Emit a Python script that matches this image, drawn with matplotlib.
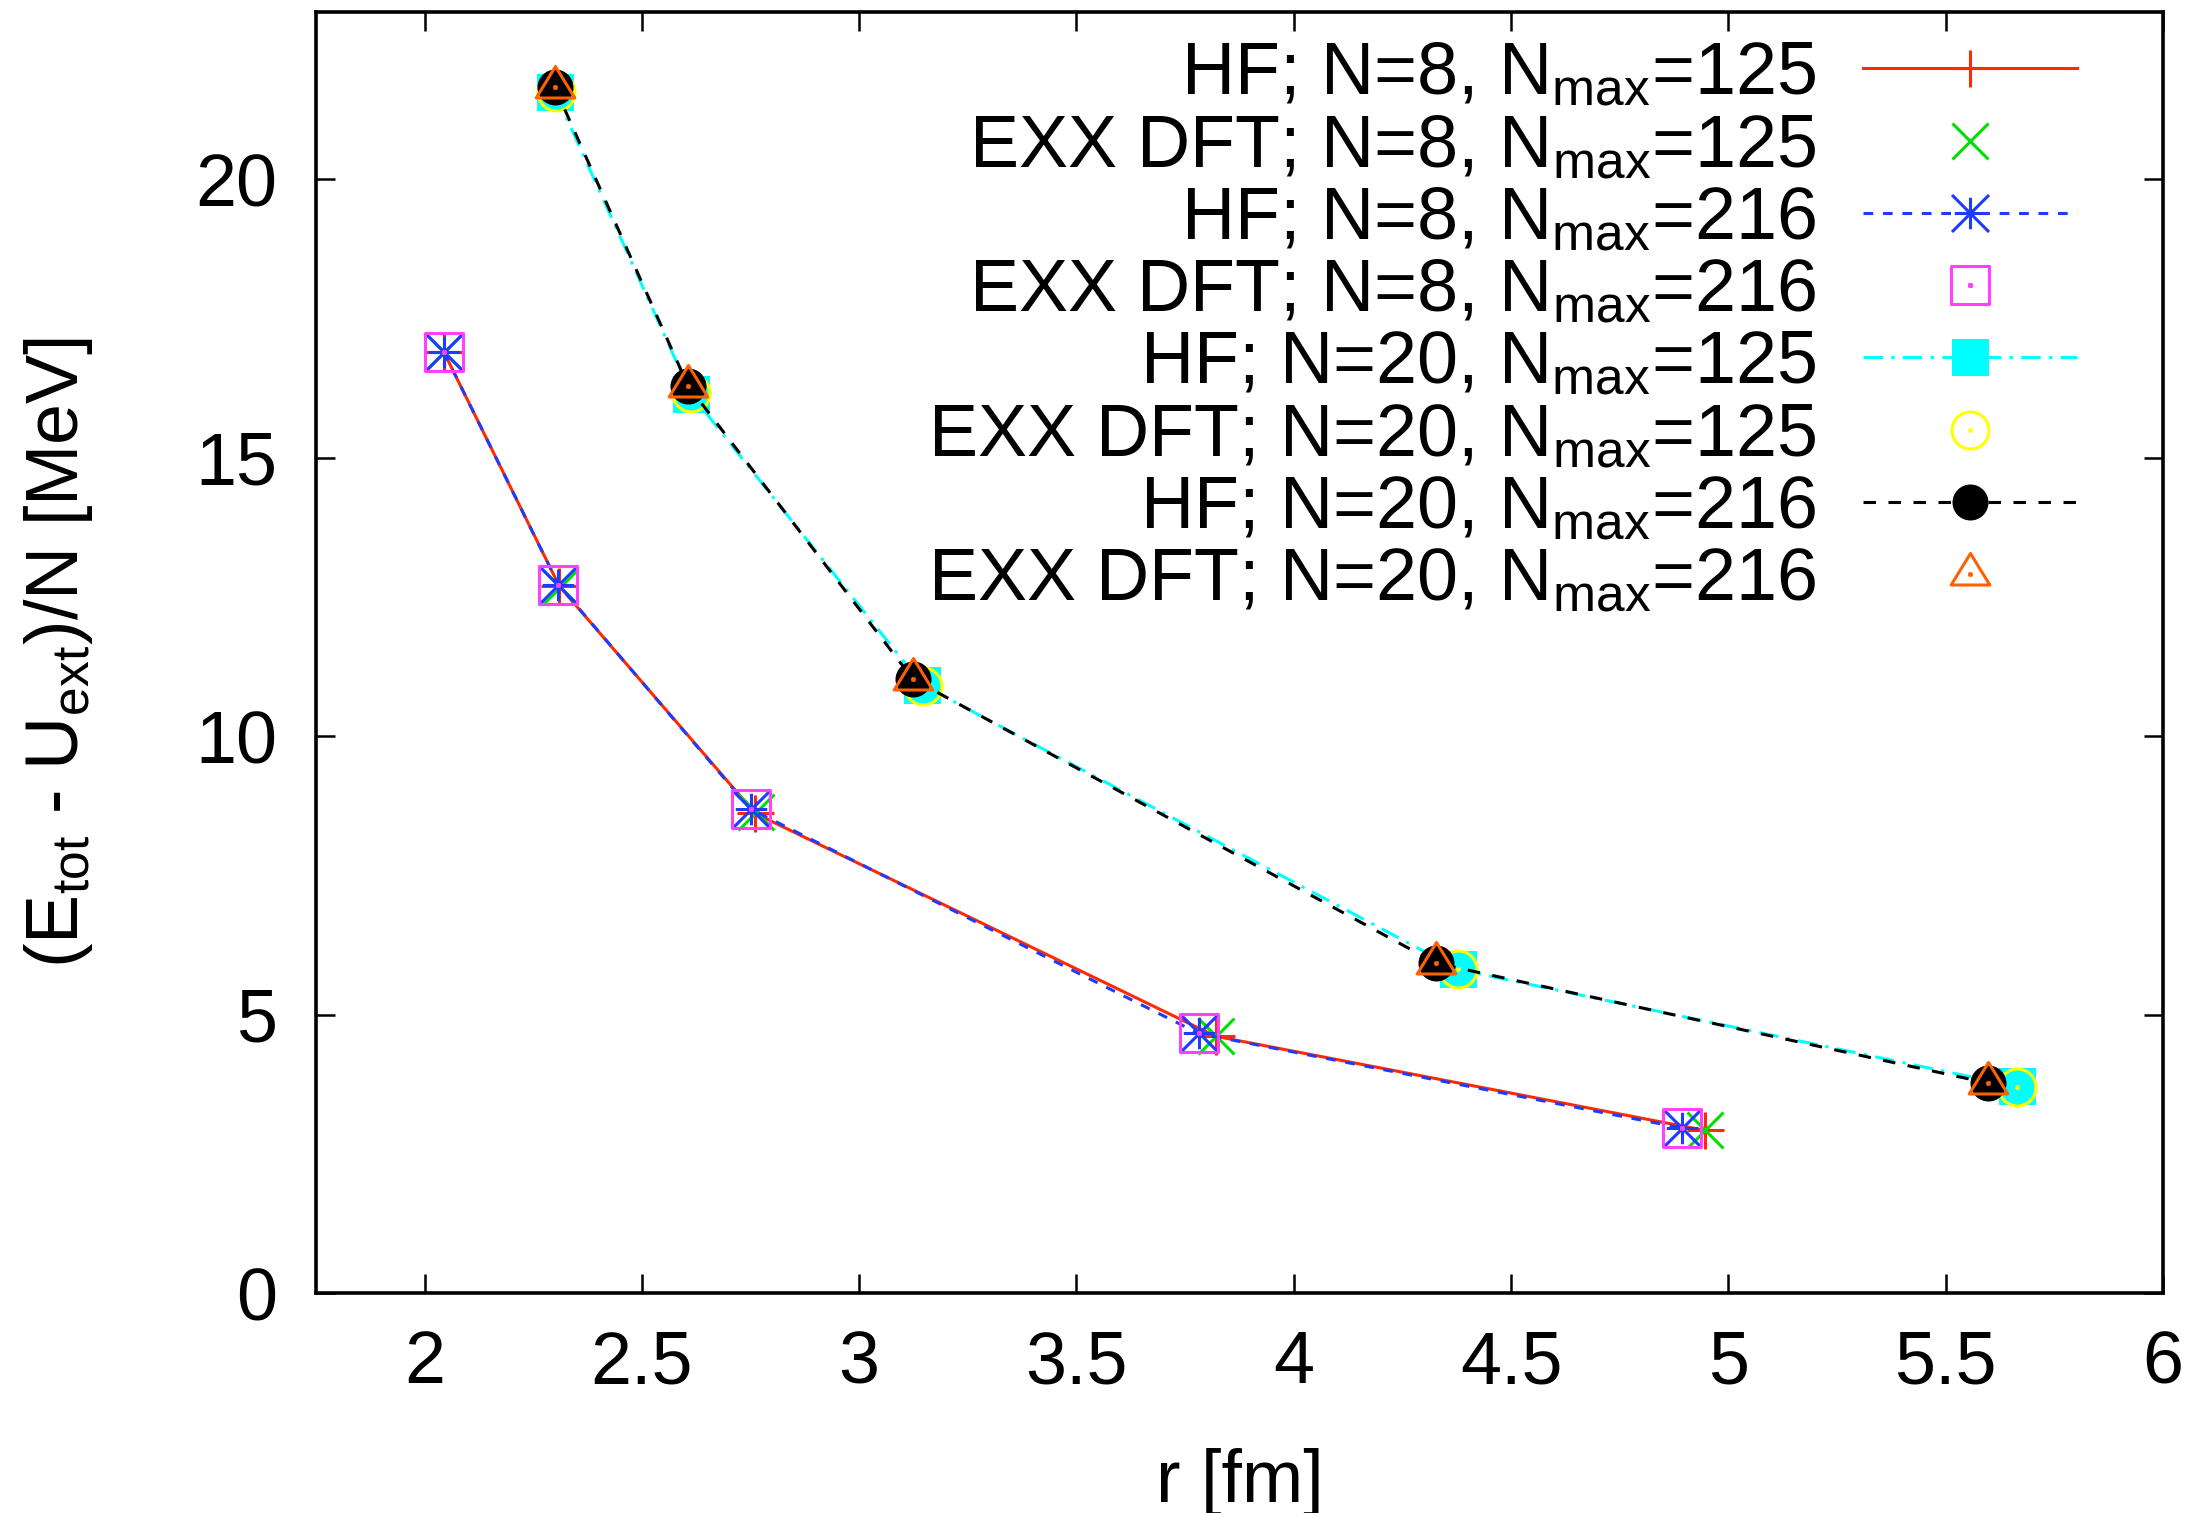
import numpy as np
import matplotlib
matplotlib.use("Agg")
import matplotlib.pyplot as plt
from matplotlib.path import Path

plt.rcParams['font.family'] = ['Liberation Sans', 'DejaVu Sans']
plt.rcParams['mathtext.fontset'] = 'custom'
plt.rcParams['mathtext.rm'] = 'Liberation Sans'
plt.rcParams['mathtext.it'] = 'Liberation Sans'
plt.rcParams['mathtext.default'] = 'regular'
plt.rcParams['lines.scale_dashes'] = False

# ---------------- data ----------------
# N = 8
r_hf8_125 = [2.044, 2.310, 2.761, 3.820, 4.946]
e_hf8_125 = [16.90, 12.69, 8.61, 4.61, 2.92]
r_exx8_125 = [2.044, 2.312, 2.763, 3.820, 4.946]
e_exx8_125 = [16.90, 12.68, 8.63, 4.62, 2.92]
r_hf8_216 = [2.044, 2.308, 2.750, 3.781, 4.894]
e_hf8_216 = [16.90, 12.72, 8.69, 4.66, 2.96]
r_exx8_216 = [2.044, 2.308, 2.750, 3.781, 4.894]
e_exx8_216 = [16.90, 12.72, 8.69, 4.66, 2.96]
# N = 20
r_hf20_125 = [2.300, 2.613, 3.145, 4.378, 5.663]
e_hf20_125 = [21.56, 16.14, 10.92, 5.81, 3.71]
r_exx20_125 = [2.302, 2.614, 3.147, 4.378, 5.664]
e_exx20_125 = [21.57, 16.15, 10.90, 5.81, 3.70]
r_hf20_216 = [2.299, 2.606, 3.124, 4.328, 5.597]
e_hf20_216 = [21.66, 16.29, 11.02, 5.92, 3.77]
r_exx20_216 = [2.299, 2.606, 3.124, 4.328, 5.597]
e_exx20_216 = [21.66, 16.29, 11.02, 5.92, 3.77]

labels = [
    r'HF; N=8, N$_{\mathrm{max}}$=125',
    r'EXX DFT; N=8, N$_{\mathrm{max}}$=125',
    r'HF; N=8, N$_{\mathrm{max}}$=216',
    r'EXX DFT; N=8, N$_{\mathrm{max}}$=216',
    r'HF; N=20, N$_{\mathrm{max}}$=125',
    r'EXX DFT; N=20, N$_{\mathrm{max}}$=125',
    r'HF; N=20, N$_{\mathrm{max}}$=216',
    r'EXX DFT; N=20, N$_{\mathrm{max}}$=216',
]
xticks = [2, 2.5, 3, 3.5, 4, 4.5, 5, 5.5, 6]
xticklabels = ['2', '2.5', '3', '3.5', '4', '4.5', '5', '5.5', '6']
yticks = [0, 5, 10, 15, 20]

# ---------------- markers ----------------
M, L = Path.MOVETO, Path.LINETO
def dot():
    d = 0.04
    return Path([(-d, -d), (d, -d), (d, d), (-d, d), (-d, -d)], [M, L, L, L, Path.CLOSEPOLY])

a = 0.85
asterisk = Path([(-a, 0), (a, 0), (0, -a), (0, a), (-1, -1), (1, 1), (-1, 1), (1, -1)],
                [M, L, M, L, M, L, M, L])
sq_open = Path.make_compound_path(
    Path([(-1, -1), (1, -1), (1, 1), (-1, 1), (-1, -1)], [M, L, L, L, Path.CLOSEPOLY]), dot())
circ_open = Path.make_compound_path(Path.unit_circle(), dot())
tri_open = Path.make_compound_path(
    Path([(0, 1.0), (-0.92, -0.5), (0.92, -0.5), (0, 1.0)], [M, L, L, Path.CLOSEPOLY]), dot())

PX = 200 / 72.0  # px per pt
ms_box = 37 / PX
lw = 1.1
mew = 1.1
FS = 26.5

fig = plt.figure(figsize=(11.04, 7.565), dpi=200)
ax = fig.add_axes([0.1431, 0.1454, 0.8365, 0.8467])

red = '#ff2a00'
green = '#00e000'
blue = '#1e3cff'
magenta = '#ff40ff'
cyan = '#00ffff'
yellow = '#ffff00'
orange = '#ff6000'

ax.plot(r_hf8_125, e_hf8_125, color=red, lw=lw, ls='-', marker='+', ms=ms_box, mew=mew, label=labels[0])
ax.plot(r_exx8_125, e_exx8_125, color=green, ls='none', marker='x', ms=ms_box * 0.95, mew=mew, label=labels[1])
ax.plot(r_hf8_216, e_hf8_216, color=blue, lw=lw, ls=(0, (3.5, 3.5)), marker=asterisk, ms=ms_box, mew=mew, label=labels[2])
ax.plot(r_exx8_216, e_exx8_216, color=magenta, ls='none', marker=sq_open, ms=ms_box * 1.02, mew=mew,
        mfc='none', mec=magenta, label=labels[3])
ax.plot(r_hf20_125, e_hf20_125, color=cyan, lw=lw, ls=(0, (7, 3, 1.2, 3)), marker='s', ms=ms_box, mew=0,
        label=labels[4])
ax.plot(r_exx20_125, e_exx20_125, color=yellow, ls='none', marker=circ_open, ms=ms_box, mew=mew,
        mfc='none', mec=yellow, label=labels[5])
ax.plot(r_hf20_216, e_hf20_216, color='black', lw=lw, ls=(0, (4.5, 4.5)), marker='o', ms=36 / PX, mew=0,
        label=labels[6])
ax.plot(r_exx20_216, e_exx20_216, color=orange, ls='none', marker=tri_open, ms=42 / PX, mew=mew,
        mfc='none', mec=orange, label=labels[7])

ax.set_xlim(1.75, 6)
ax.set_ylim(0, 23)
ax.set_xticks(xticks)
ax.set_xticklabels(xticklabels)
ax.set_yticks(yticks)
ax.tick_params(direction='in', top=True, right=True, length=7, width=0.9, labelsize=FS)
ax.tick_params(axis='x', pad=13)
ax.tick_params(axis='y', pad=14)
for s in ax.spines.values():
    s.set_linewidth(1.3)

ax.set_xlabel('r [fm]', fontsize=FS, labelpad=18)
ax.set_ylabel(r'(E$_{\mathrm{tot}}$ - U$_{\mathrm{ext}}$)/N [MeV]', fontsize=FS, labelpad=36)

leg = ax.legend(loc='upper right', bbox_to_anchor=(0.9534, 0.978), frameon=False, fontsize=FS,
                markerfirst=False, numpoints=1, handlelength=2.9, handletextpad=0.64,
                borderpad=0, borderaxespad=0, labelspacing=0.044)
for t in leg.get_texts():
    t.set_ha('right')
leg._legend_box.align = 'right'

fig.savefig('out.png', dpi=200)
